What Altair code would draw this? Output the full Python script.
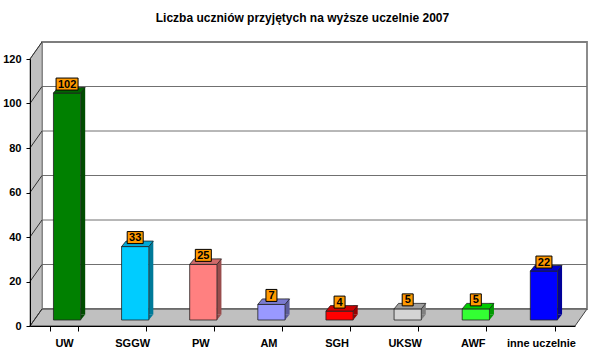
import altair as alt
import pandas as pd

# ---- data ----
categories = ["UW", "SGGW", "PW", "AM", "SGH", "UKSW", "AWF", "inne uczelnie"]
values = [102, 33, 25, 7, 4, 5, 5, 22]
y_ticks = [0, 20, 40, 60, 80, 100, 120]
title_text = "Liczba uczniów przyjętych na wyższe uczelnie 2007"

# ---- styles ----
front_colors = ["#008000", "#00CCFF", "#FF8080", "#9999FF", "#FF0000", "#D4D4D4", "#33FF33", "#0000FF"]
top_colors = ["#006600", "#00A8D6", "#D06A6A", "#7A7AD0", "#CC0000", "#A0A0A0", "#00CC00", "#0000CC"]
side_colors = ["#004D00", "#007A99", "#994D4D", "#5C5C99", "#990000", "#808080", "#009900", "#000099"]

FONT = "Liberation Sans"
W, H = 545, 267          # plot area (front planes)
DX, DY = 12, 17          # 3D wall depth in px
FX, FY = 3, -6           # bar front offset
BDX, BDY = 4.5, 5.5      # bar depth
PAD_IN = 0.6
STEP = W / len(categories)
BW = STEP * (1 - PAD_IN)

df = pd.DataFrame({
    "cat": categories,
    "value": values,
    "front": front_colors,
    "top": top_colors,
    "side": side_colors,
    "digits": [str(len(str(v))) for v in values],
})
ticks_df = pd.DataFrame({"value": y_ticks})
one = pd.DataFrame({"k": [0]})

xscale = alt.Scale(domain=categories, paddingInner=PAD_IN, paddingOuter=PAD_IN / 2)
yscale = alt.Scale(domain=[0, 120], nice=False)
xaxis = alt.Axis(title=None, labelAngle=0, tickBand="extent", tickSize=5, tickColor="black",
                 domainColor="black", labelFont=FONT, labelFontSize=11, labelFontWeight="bold",
                 labelColor="black", labelPadding=6, grid=False, zindex=1)
yaxis = alt.Axis(title=None, values=y_ticks, tickSize=4, tickColor="black", domainColor="black",
                 labelFont=FONT, labelFontSize=11, labelFontWeight="bold", labelColor="black",
                 labelPadding=5, grid=False, zindex=1)

X = alt.X("cat:N", scale=xscale, axis=xaxis, sort=categories)
Yv = alt.Y("value:Q", scale=yscale, axis=yaxis)

# back wall
back = alt.Chart(one).mark_rect(fill="white", stroke="#8c8c8c", strokeWidth=2).encode(
    x=alt.value(DX), x2=alt.value(W + DX), y=alt.value(-DY), y2=alt.value(H - DY))

# left wall
left_path = f"M0,0 L0,{-H} L{DX},{-H - DY} L{DX},{-DY} Z"
left = alt.Chart(one).mark_point(shape=left_path, size=4, filled=True, fill="#C0C0C0",
                                 stroke="#808080", strokeWidth=1, opacity=1).encode(
    x=alt.value(0), y=alt.Y(datum=0, type="quantitative", scale=yscale, axis=yaxis))

# floor
floor_path = f"M0,0 L{W},0 L{W + DX},{-DY} L{DX},{-DY} Z"
floor = alt.Chart(one).mark_point(shape=floor_path, size=4, filled=True, fill="#C0C0C0",
                                  stroke="#404040", strokeWidth=1, opacity=1).encode(
    x=alt.value(0), y=alt.Y(datum=0, type="quantitative", scale=yscale, axis=yaxis))

# gridlines on back wall
grid = alt.Chart(ticks_df).mark_rule(color="#707070", strokeWidth=1, yOffset=-DY).encode(
    x=alt.value(DX), x2=alt.value(W + DX), y=Yv)

# diagonals on left wall
diag = alt.Chart(ticks_df).mark_rule(color="#303030", strokeWidth=1, y2Offset=-DY).encode(
    x=alt.value(0), x2=alt.value(DX), y=Yv, y2="value:Q")

# bar side faces
side = alt.Chart(df).mark_bar(width=BDX, xOffset=FX + BW / 2 + BDX / 2,
                              yOffset=FY - BDY, y2Offset=FY - BDY).encode(
    x=X, y=Yv, y2=alt.Y2(datum=0), color=alt.Color("side:N", scale=None))

tri_path = f"M0,0 L0,{-BDY} L{BDX},{-BDY} Z"
side_tri = alt.Chart(df).mark_point(shape=tri_path, size=4, filled=True, strokeWidth=0,
                                    opacity=1, xOffset=FX + BW / 2, yOffset=FY).encode(
    x=X, y=alt.Y(datum=0, type="quantitative", scale=yscale, axis=yaxis),
    fill=alt.Fill("side:N", scale=None))

# bar front faces
front = alt.Chart(df).mark_bar(xOffset=FX, yOffset=FY, y2Offset=FY, stroke="#222222",
                               strokeWidth=0.8).encode(
    x=X, y=Yv, y2=alt.Y2(datum=0), color=alt.Color("front:N", scale=None))

# bar top faces
top_path = f"M{-BW / 2},0 L{BW / 2},0 L{BW / 2 + BDX},{-BDY} L{-BW / 2 + BDX},{-BDY} Z"
topf = alt.Chart(df).mark_point(shape=top_path, size=4, filled=True, stroke="#222222",
                                strokeWidth=0.8, opacity=1, xOffset=FX, yOffset=FY).encode(
    x=X, y=Yv, fill=alt.Fill("top:N", scale=None))

# label boxes
def box(w, h=12):
    return f"M{-w / 2},{-h / 2} L{w / 2},{-h / 2} L{w / 2},{h / 2} L{-w / 2},{h / 2} Z"

boxes = alt.Chart(df).mark_point(size=4, filled=True, fill="#FF9900", stroke="black",
                                 strokeWidth=1, opacity=1, xOffset=FX, yOffset=-15).encode(
    x=X, y=Yv,
    shape=alt.Shape("digits:N", scale=alt.Scale(domain=["1", "2", "3"],
                                                 range=[box(11), box(16), box(22)]), legend=None))

labels = alt.Chart(df).mark_text(font=FONT, fontSize=11, fontWeight="bold", color="black",
                                 baseline="middle", align="center", xOffset=FX, yOffset=-14.5).encode(
    x=X, y=Yv, text="value:Q")

chart = alt.layer(back, left, floor, grid, diag, side, side_tri, front, topf, boxes, labels).properties(
    width=W, height=H,
    autosize=alt.AutoSizeParams(type="none"),
    padding={"left": 30, "top": 59, "right": 25, "bottom": 28},
    background="white",
    title=alt.TitleParams(title_text, font=FONT, fontSize=12, fontWeight="bold", color="black",
                          anchor="middle", frame="group", offset=6, baseline="alphabetic"),
).configure_view(stroke=None)

chart.save("out.html", embed_options={"renderer": "svg", "actions": False})
